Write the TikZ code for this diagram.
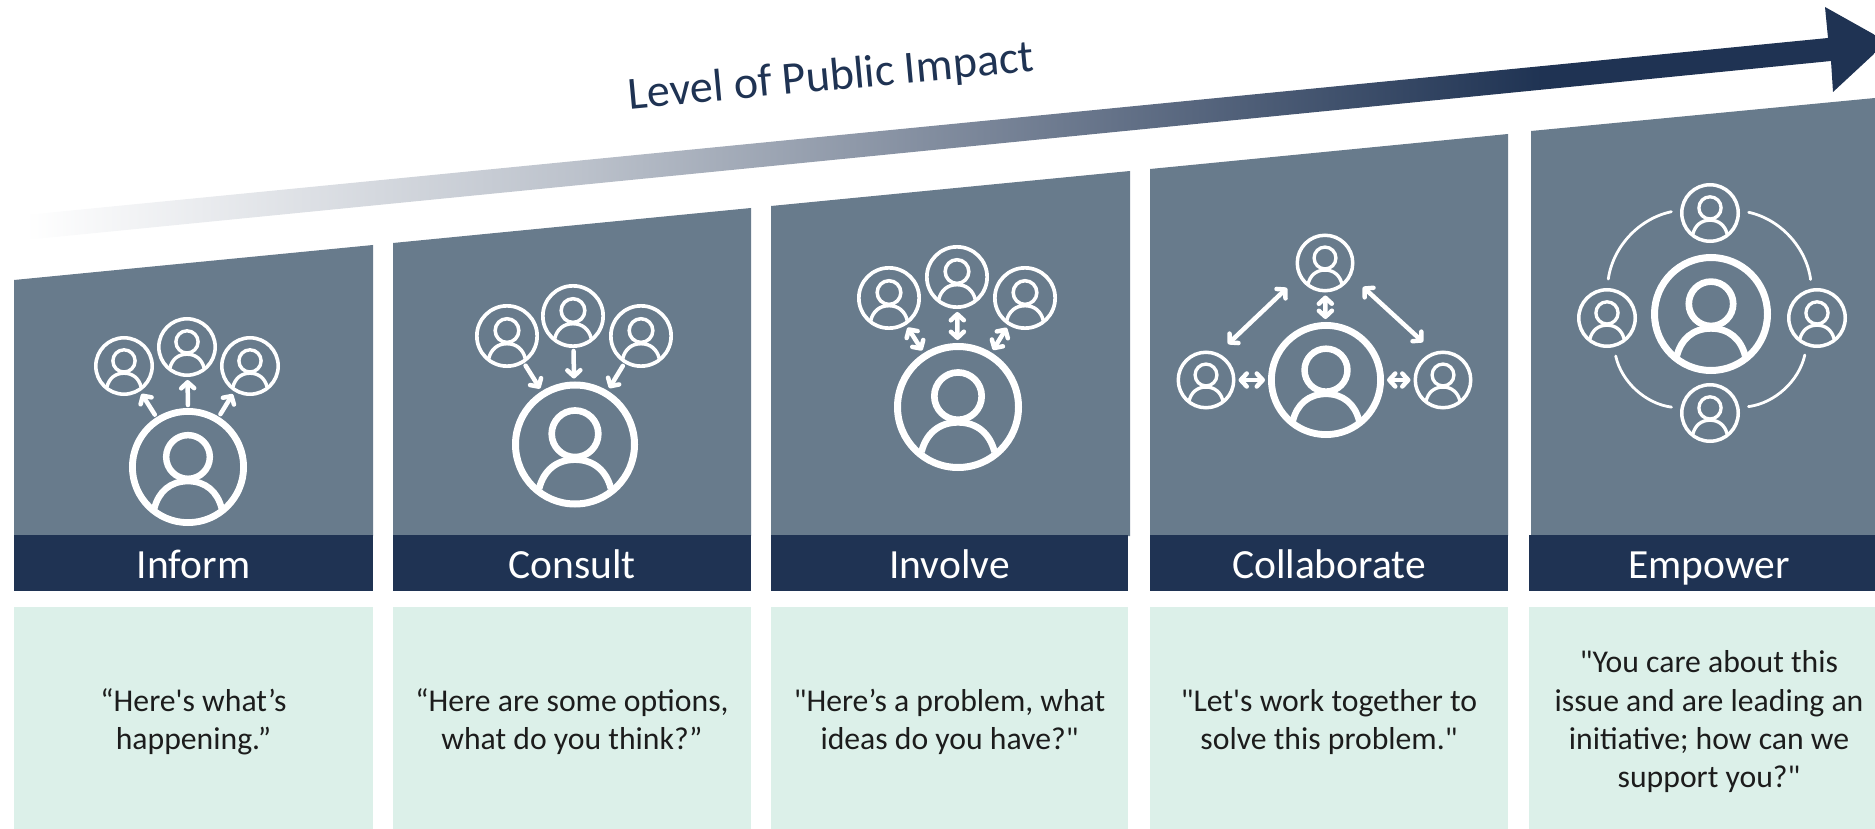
\documentclass[tikz,border=0pt]{standalone}
\usepackage{fontspec}
\usepackage{tikz}
\usetikzlibrary{arrows.meta, positioning, shapes.geometric}

\newfontfamily\carlito{Carlito}

\definecolor{navy}{HTML}{1F3353}
\definecolor{slate}{HTML}{687B8C}
\definecolor{mint}{HTML}{DCF0E9}
\definecolor{quoteink}{HTML}{1C1C1C}

\pgfdeclarehorizontalshading{impactfade}{100bp}{
  color(0bp)=(white); color(25bp)=(white); color(40bp)=(navy!30); color(54bp)=(navy!68); color(66bp)=(navy); color(100bp)=(navy)}

% person icon: name, x, y, outer radius, stroke
\newcommand{\person}[5]{
  \node[ring, minimum size=2*#4pt-#5pt, line width=#5pt] (#1) at (#2,#3) {};
  \begin{scope}[shift={(#2,#3)}, x=#4pt, y=-#4pt, white, line width=0.95*#5pt]
    \draw (0,-0.17) circle[radius=0.37];
    \draw (-0.57,0.7) .. controls (-0.5,0.42) and (-0.3,0.24) .. (0,0.24)
      .. controls (0.3,0.24) and (0.5,0.42) .. (0.57,0.7);
  \end{scope}
}
% first line strut, sets the quotes a little lower in their boxes
\newcommand{\quotestrut}{\rule{0pt}{29pt}}

\begin{document}
\begin{tikzpicture}[
  x=1pt, y=-1pt,
  >={Straight Barb[round, length=6pt, width=13pt]},
  font=\carlito,
  panel/.style={fill=slate},
  header/.style={
    rectangle, fill=navy, text=white, inner sep=0pt,
    minimum height=56pt, text height=30pt, text depth=0pt,
    font=\carlito\fontsize{41.5}{48}\selectfont,
  },
  quote/.style={
    rectangle, fill=mint, text=quoteink, align=center, inner sep=0pt,
    minimum height=222pt, font=\carlito\fontsize{31.7}{38.3}\selectfont,
  },
  ring/.style={circle, draw=white, inner sep=0pt},
  impact/.style={white, line width=4.5pt, line cap=round, shorten >=3pt, shorten <=3pt},
  orbit/.style={white, line width=2.8pt, line cap=round, shorten >=9pt, shorten <=9pt},
]
\useasboundingbox (0,0) rectangle (1875,829);
\clip (0,0) rectangle (1875,829);

% --- Rising arrow ---
\shade[shading=impactfade] (25,215) -- (1828,38) -- (1825,7) -- (1875,35) -- (1875,53)
  -- (1833,92) -- (1831,61) -- (25,240) -- cycle;
\node[text=navy, rotate=5.3, font=\carlito\fontsize{46}{52}\selectfont] (LEVEL) at (831,78) {Level of Public Impact};

% --- Panels ---
\foreach \xa/\xb/\yl/\yr in {14/373/280/245, 393/751/243/208, 771/1130/206/171, 1150/1508/169/134, 1531/1875/131/98}
  \fill[panel] (\xa,\yl) -- (\xb,\yr) -- (\xb,536) -- (\xa,536) -- cycle;

% --- Headers ---
\node[header, minimum width=359pt] (INFORM) at (193.5,563) {Inform};
\node[header, minimum width=358pt] (CONSULT) at (572,563) {Consult};
\node[header, minimum width=357pt] (INVOLVE) at (949.5,563) {Involve};
\node[header, minimum width=358pt] (COLLAB) at (1329,563) {Collaborate};
\node[header, minimum width=360pt] (EMPOWER) at (1709,563) {Empower};

% --- Quotes ---
\node[quote, minimum width=359pt, below=16pt of INFORM] (QINF) {\quotestrut“Here's what’s\\ happening.”};
\node[quote, minimum width=358pt, below=16pt of CONSULT] (QCON) {\quotestrut“Here are some options,\\ what do you think?”};
\node[quote, minimum width=357pt, below=16pt of INVOLVE] (QINV) {\quotestrut"Here’s a problem, what\\ ideas do you have?"};
\node[quote, minimum width=358pt, below=16pt of COLLAB] (QCOL) {\quotestrut"Let's work together to\\ solve this problem."};
\node[quote, minimum width=360pt, below=16pt of EMPOWER] (QEMP) {\quotestrut"You care about this\\ issue and are leading an\\ initiative; how can we\\ support you?"};

% --- Inform icons ---
\person{IN0}{188}{467}{59}{6.8}
\person{IN1}{124}{366}{30}{3.6}
\person{IN2}{187}{347}{30}{3.6}
\person{IN3}{250}{366}{30}{3.6}
\draw[impact, ->] (IN0) -- (IN1);
\draw[impact, ->] (IN0.north) -- (IN2);
\draw[impact, ->] (IN0) -- (IN3);

% --- Consult icons ---
\person{CO0}{575}{444.5}{63}{7}
\person{CO1}{507}{336}{32}{3.7}
\person{CO2}{573}{316}{32}{3.7}
\person{CO3}{641}{336}{32}{3.7}
\draw[impact, ->] (CO1) -- (CO0);
\draw[impact, ->] (CO2) -- (CO0);
\draw[impact, ->] (CO3) -- (CO0);

% --- Involve icons ---
\person{IV0}{958}{407}{64}{7}
\person{IV1}{889}{298}{32}{3.7}
\person{IV2}{957}{277}{32}{3.7}
\person{IV3}{1025}{298}{32}{3.7}
\draw[impact, <->] (IV1) -- (IV0);
\draw[impact, <->] (IV2) -- (IV0);
\draw[impact, <->] (IV3) -- (IV0);

% --- Collaborate icons ---
\person{CL0}{1326}{380}{58}{6.8}
\person{CL1}{1206}{380}{29.5}{3.5}
\person{CL2}{1325}{263}{29.5}{3.5}
\person{CL3}{1443}{380}{29.5}{3.5}
\draw[impact, <->] (CL1) -- (CL0);
\draw[impact, <->] (CL2) -- (CL0);
\draw[impact, <->] (CL3) -- (CL0);
\draw[impact, <->, shorten >=0pt, shorten <=0pt] ([shift={(22,-36)}]CL1.center) -- ([shift={(-38,25)}]CL2.center);
\draw[impact, <->, shorten >=0pt, shorten <=0pt] ([shift={(38,24)}]CL2.center) -- ([shift={(-20,-38)}]CL3.center);

% --- Empower icons ---
\person{EM0}{1711}{314}{60}{7}
\person{EM1}{1710}{213}{30}{3.5}
\person{EM2}{1817}{318}{30}{3.5}
\person{EM3}{1710}{413}{30}{3.5}
\person{EM4}{1607}{318}{30}{3.5}
\draw[orbit] (EM1.5) to[bend left=35] (EM2.100);
\draw[orbit] (EM2.-110) to[bend left=35] (EM3.10);
\draw[orbit] (EM3.171) to[bend left=35] (EM4.-77);
\draw[orbit] (EM4.90) to[bend left=35] (EM1.174);

\end{tikzpicture}
\end{document}
